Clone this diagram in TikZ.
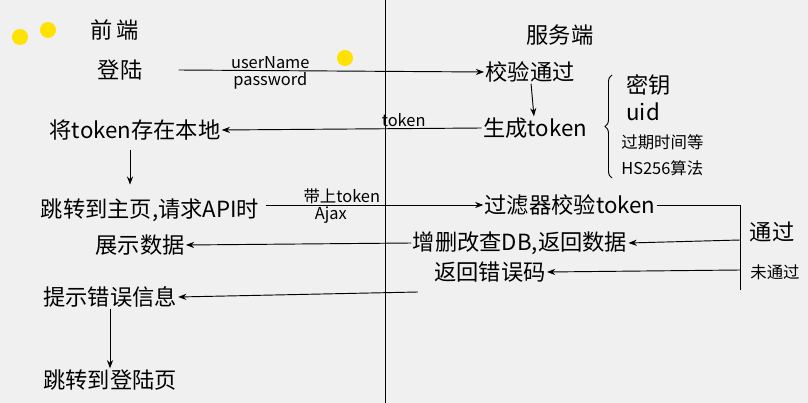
\documentclass[tikz,border=0pt]{standalone}
\usepackage{fontspec}
\setmainfont{Noto Sans CJK SC}
\usetikzlibrary{arrows.meta,decorations.pathreplacing}
\tikzset{
  hand/.style={font=\fontsize{19}{21}\selectfont, inner sep=1pt},
  small/.style={font=\fontsize{14}{16}\selectfont, inner sep=1pt},
  flow/.style={thick, -{Stealth[length=7pt]}}
}
\begin{document}
\begin{tikzpicture}[x=0.03cm,y=-0.03cm]
\fill[black!6] (0,0) rectangle (808,403);
\useasboundingbox (0,0) rectangle (808,403);
% magnets
\foreach \mx/\my in {20/37, 48/30, 345/58}
  \fill[yellow!85!orange] (\mx,\my) circle (8);
% divider
\draw[thick] (385,0) -- (385,403);
\node[hand] (front) at (115,30) {前\,端};
\node[hand] (server) at (560,35) {服务端};
% login
\node[hand] (login) at (120,70) {登陆};
\node[hand] (check) at (530,72) {校验通过};
\draw[flow] (login.east) ++(35,0) -- (check.west) node[pos=0.3,above,small] {userName} node[pos=0.3,below,small] {password};
\node[hand] (gen) at (535,128) {生成token};
\draw[flow] (check) -- (gen);
\node[hand,anchor=west] (key) at (625,85) {密钥};
\node[hand,anchor=west] (uid) at (625,112) {uid};
\node[anchor=west,small] (exp) at (620,142) {过期时间等};
\node[anchor=west,small] (alg) at (620,168) {HS256算法};
\draw[thick,decorate,decoration={brace,amplitude=6pt}] (612,178) -- (612,75);
\node[hand] (store) at (135,130) {将token存在本地};
\draw[flow] (gen.west) -- (store.east) node[pos=0.3,above,small] {token};
% request
\node[hand] (home) at (150,210) {跳转到主页,请求API时};
\draw[flow] (store.south) ++(-5,8) -- ++(0,35);
\node[hand] (filter) at (570,205) {过滤器校验token};
\draw[flow] (home.east) ++(5,-5) -- (filter.west) node[pos=0.35,above,small] {带上token} node[pos=0.3,below,small] {Ajax};
\coordinate (split) at (740,205);
\draw[thick] (filter.east) -- (split) -- (740,290);
\node[hand] (pass) at (772,232) {通过};
\node[small] (fail) at (775,272) {未通过};
% success
\node[hand] (crud) at (520,243) {增删改查DB,返回数据};
\node[hand] (show) at (140,245) {展示数据};
\draw[flow] (740,240) -- (crud.east);
\draw[flow] (crud.west) -- (show.east);
% failure
\node[hand] (err) at (490,272) {返回错误码};
\node[hand] (tip) at (110,297) {提示错误信息};
\node[hand] (relog) at (110,380) {跳转到登陆页};
\draw[flow] (740,270) -- (err.east);
\draw[flow] (err.west) ++(-15,20) -- (tip.east);
\draw[flow] (tip.south) -- (relog.north);
\end{tikzpicture}
\end{document}
